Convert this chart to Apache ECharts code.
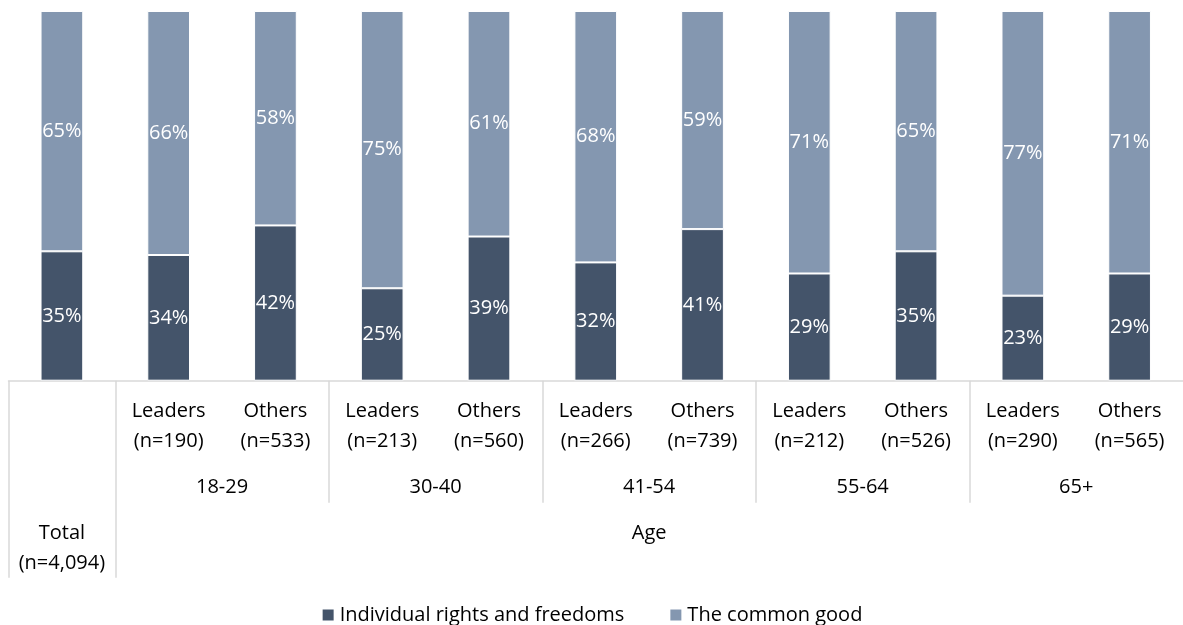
<!DOCTYPE html>
<html>
<head>
<meta charset="utf-8">
<script src="https://cdn.jsdelivr.net/npm/echarts@6/dist/echarts.min.js"></script>
<style>
  html, body { margin: 0; padding: 0; background: #ffffff; }
  #chart { width: 1183px; height: 625px; }
</style>
</head>
<body>
<div id="chart"></div>
<script>
// Respondent groups, left to right
const categories = ['Total', 'Leaders', 'Others', 'Leaders', 'Others', 'Leaders', 'Others', 'Leaders', 'Others', 'Leaders', 'Others'];
const sampleSizes = ['4,094', '190', '533', '213', '560', '266', '739', '212', '526', '290', '565'];
const ageGroups = ['18-29', '30-40', '41-54', '55-64', '65+'];
const ageTitle = 'Age';

// Share of respondents (%) choosing each priority
const individualRights = [35, 34, 42, 25, 39, 32, 41, 29, 35, 23, 29];
const commonGood = [65, 66, 58, 75, 61, 68, 59, 71, 65, 77, 71];

const seriesNames = ['Individual rights and freedoms', 'The common good'];

const FONT = '"Open Sans", "Noto Sans", sans-serif';
const GRID_LINE = '#d9d9d9';

// Positions along the secondary (slot-based) axes: slot i spans [i, i+1]
const groupCenters = ageGroups.map((_, i) => 2 + 2 * i);
const groupEdges = ageGroups.map((_, i) => 1 + 2 * i);
const totalCenter = 0.5;
const ageCenter = 1 + ageGroups.length;
const slotCount = categories.length;

function groupLabel(v) {
  const i = groupCenters.indexOf(v);
  return i >= 0 ? ageGroups[i] : '';
}

const chart = echarts.init(document.getElementById('chart'), null, { renderer: 'canvas' });

const barLabel = {
  show: true,
  position: 'inside',
  color: '#ffffff',
  fontFamily: FONT,
  fontSize: 20,
  formatter: p => p.value + '%'
};

chart.setOption({
  animation: false,
  textStyle: { fontFamily: FONT },
  grid: { left: 8.5, top: 11, width: 1191.7, height: 369.7, containLabel: false },
  legend: {
    data: seriesNames,
    left: 'center',
    top: 603,
    padding: 0,
    icon: 'rect',
    itemWidth: 13,
    itemHeight: 13,
    itemGap: 44,
    textStyle: { fontFamily: FONT, fontSize: 20, color: '#000000', lineHeight: 24 }
  },
  xAxis: [
    {
      type: 'category',
      data: categories,
      position: 'bottom',
      axisLine: { show: true, lineStyle: { color: GRID_LINE, width: 1.5 } },
      axisTick: { show: false },
      axisLabel: {
        interval: 0,
        margin: 16,
        color: '#000000',
        fontFamily: FONT,
        fontSize: 20,
        lineHeight: 30,
        formatter: (v, i) => (i === 0 ? '' : v + '\n(n=' + sampleSizes[i] + ')')
      }
    },
    {
      // age-group row: dividers between groups and the group names
      type: 'value',
      min: 0,
      max: slotCount,
      position: 'bottom',
      axisLine: { show: false },
      splitLine: { show: false },
      axisTick: {
        show: true,
        customValues: groupEdges.slice(1),
        length: 122,
        lineStyle: { color: GRID_LINE, width: 1.5 }
      },
      axisLabel: {
        customValues: groupCenters,
        margin: 92,
        color: '#000000',
        fontFamily: FONT,
        fontSize: 20,
        lineHeight: 30,
        formatter: v => groupLabel(v)
      }
    },
    {
      // outermost row: Total vs. Age
      type: 'value',
      min: 0,
      max: slotCount,
      position: 'bottom',
      axisLine: { show: false },
      splitLine: { show: false },
      axisTick: {
        show: true,
        customValues: [0, 1],
        length: 197,
        lineStyle: { color: GRID_LINE, width: 1.5 }
      },
      axisLabel: {
        customValues: [totalCenter, ageCenter],
        margin: 138,
        color: '#000000',
        fontFamily: FONT,
        fontSize: 20,
        lineHeight: 30,
        formatter: v => (v === totalCenter ? categories[0] + '\n(n=' + sampleSizes[0] + ')' : ageTitle)
      }
    }
  ],
  yAxis: { type: 'value', min: 0, max: 100, show: false },
  series: [
    {
      name: seriesNames[0],
      type: 'bar',
      stack: 'share',
      xAxisIndex: 0,
      barWidth: '40%',
      data: individualRights,
      itemStyle: { color: '#44546A', borderColor: '#ffffff', borderWidth: 1 },
      label: barLabel
    },
    {
      name: seriesNames[1],
      type: 'bar',
      stack: 'share',
      xAxisIndex: 0,
      barWidth: '40%',
      data: commonGood,
      itemStyle: { color: '#8497B0', borderColor: '#ffffff', borderWidth: 1 },
      label: barLabel
    }
  ]
});
</script>
</body>
</html>
